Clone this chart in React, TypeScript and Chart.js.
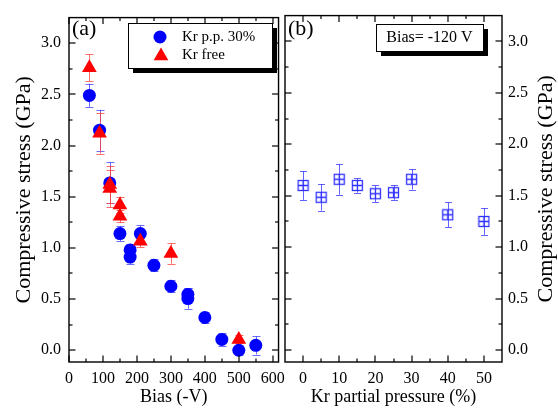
import React, { useEffect, useRef } from 'react';
import { Chart, registerables } from 'chart.js';
Chart.register(...registerables);

// ---------- data ----------
const biasPP = [60, 90, 120, 150, 180, 180, 210, 250, 300, 350, 350, 400, 450, 500, 550];
const stressPP = [2.49, 2.15, 1.635, 1.14, 0.98, 0.91, 1.14, 0.83, 0.625, 0.545, 0.505, 0.32, 0.106, 0.0, 0.048];
const errPP = [0.115, 0.2, 0.2, 0.075, 0.06, 0.07, 0.08, 0.06, 0.06, 0.06, 0.1, 0.05, 0.06, 0.05, 0.09];

const biasFree = [60, 90, 120, 120, 150, 150, 210, 300, 500];
const stressFree = [2.76, 2.12, 1.62, 1.58, 1.42, 1.31, 1.065, 0.945, 0.106];
const errFree = [0.13, 0.2, 0.18, 0.18, 0.08, 0.06, 0.06, 0.1, 0.04];

const krPressure = [0, 5, 10, 15, 20, 25, 30, 40, 50];
const stressKr = [1.6, 1.485, 1.66, 1.6, 1.52, 1.53, 1.66, 1.315, 1.25];
const errKr = [0.14, 0.13, 0.15, 0.07, 0.08, 0.07, 0.1, 0.12, 0.13];

const biasTicks = [0, 100, 200, 300, 400, 500, 600];
const biasMinor = [50, 150, 250, 350, 450, 550];
const krTicks = [0, 10, 20, 30, 40, 50];
const krMinor = [5, 15, 25, 35, 45];
const stressTicks = [0, 0.5, 1.0, 1.5, 2.0, 2.5, 3.0];
const stressMinor = [0.25, 0.75, 1.25, 1.75, 2.25, 2.75];

const seriesLabels = ['Kr p.p. 30%', 'Kr free'];
const biasNote = 'Bias= -120 V';
const yTitle = 'Compressive stress (GPa)';

const FONT = "'Liberation Serif', 'Times New Roman', serif";

// ---------- plugins ----------
const errorBars = {
  id: 'errorBars',
  beforeDatasetsDraw(chart: any) {
    const { ctx } = chart;
    chart.data.datasets.forEach((ds: any, i: number) => {
      if (!ds.errors) return;
      const meta = chart.getDatasetMeta(i);
      const ys = chart.scales[meta.yAxisID];
      ctx.save();
      ctx.strokeStyle = ds.errorColor;
      ctx.lineWidth = 1;
      meta.data.forEach((pt: any, j: number) => {
        const v = ds.data[j].y;
        const e = ds.errors[j];
        const t = ys.getPixelForValue(v + e);
        const b = ys.getPixelForValue(v - e);
        const x = Math.round(pt.x) + 0.5;
        const cw = ds.capHalf || 4;
        ctx.beginPath();
        ctx.moveTo(x, t);
        ctx.lineTo(x, b);
        ctx.moveTo(x - cw, Math.round(t) + 0.5);
        ctx.lineTo(x + cw, Math.round(t) + 0.5);
        ctx.moveTo(x - cw, Math.round(b) + 0.5);
        ctx.lineTo(x + cw, Math.round(b) + 0.5);
        ctx.stroke();
      });
      ctx.restore();
    });
  },
};

function frameTicks(xMajor: number[], xMinor: number[], yMajor: number[], yMinor: number[]) {
  return {
    id: 'frameTicks',
    afterDraw(chart: any) {
      const { ctx, chartArea: a, scales } = chart;
      const xs = scales.x;
      const ys = scales.y;
      ctx.save();
      ctx.strokeStyle = '#000';
      ctx.lineWidth = 1.4;
      ctx.strokeRect(a.left, a.top, a.right - a.left, a.bottom - a.top);
      ctx.lineWidth = 1.2;
      const seg = (x1: number, y1: number, x2: number, y2: number) => {
        ctx.beginPath();
        ctx.moveTo(x1, y1);
        ctx.lineTo(x2, y2);
        ctx.stroke();
      };
      const xt = (vals: number[], len: number) =>
        vals.forEach((v) => {
          const p = Math.round(xs.getPixelForValue(v));
          seg(p, a.bottom, p, a.bottom - len);
          seg(p, a.top, p, a.top + len);
        });
      const yt = (vals: number[], len: number) =>
        vals.forEach((v) => {
          const p = Math.round(ys.getPixelForValue(v));
          seg(a.left, p, a.left + len, p);
          seg(a.right, p, a.right - len, p);
        });
      xt(xMajor, 6.5);
      xt(xMinor, 3.5);
      yt(yMajor, 6.5);
      yt(yMinor, 3.5);
      ctx.restore();
    },
  };
}

function shadowBox(ctx: any, x: number, y: number, w: number, h: number) {
  ctx.fillStyle = '#000';
  ctx.fillRect(x + 5, y + 5, w, h);
  ctx.fillStyle = '#fff';
  ctx.fillRect(x, y, w, h);
  ctx.strokeStyle = '#000';
  ctx.lineWidth = 1;
  ctx.strokeRect(x + 0.5, y + 0.5, w, h);
}

const leftAnnotations = {
  id: 'leftAnnotations',
  afterDraw(chart: any) {
    const { ctx } = chart;
    ctx.save();
    ctx.fillStyle = '#000';
    ctx.font = `22px ${FONT}`;
    ctx.textBaseline = 'middle';
    ctx.textAlign = 'left';
    ctx.fillText('(a)', 72, 29.5);

    shadowBox(ctx, 128, 23, 144, 45);
    // circle marker
    ctx.fillStyle = '#0000ff';
    ctx.beginPath();
    ctx.arc(160, 37, 6.5, 0, Math.PI * 2);
    ctx.fill();
    // triangle marker
    ctx.fillStyle = '#ff0000';
    const r = 8.5, cx = 161, cy = 56;
    ctx.beginPath();
    ctx.moveTo(cx, cy - r);
    ctx.lineTo(cx + r * Math.sqrt(3) / 2, cy + r / 2);
    ctx.lineTo(cx - r * Math.sqrt(3) / 2, cy + r / 2);
    ctx.closePath();
    ctx.fill();
    ctx.fillStyle = '#000';
    ctx.font = `15px ${FONT}`;
    ctx.fillText(seriesLabels[0], 182, 37.5);
    ctx.fillText(seriesLabels[1], 182, 55);
    ctx.restore();
  },
};

const RIGHT_OFFSET = 278;
const rightAnnotations = {
  id: 'rightAnnotations',
  afterDraw(chart: any) {
    const { ctx, chartArea: a } = chart;
    ctx.save();
    ctx.fillStyle = '#000';
    ctx.font = `22px ${FONT}`;
    ctx.textBaseline = 'middle';
    ctx.textAlign = 'left';
    ctx.fillText('(b)', 288 - RIGHT_OFFSET, 29.5);

    shadowBox(ctx, 376 - RIGHT_OFFSET, 24, 107, 27);
    ctx.fillStyle = '#000';
    ctx.font = `16px ${FONT}`;
    ctx.textAlign = 'center';
    ctx.fillText(biasNote, 429.5 - RIGHT_OFFSET, 38);

    // right axis title (reads bottom-to-top)
    ctx.font = `22px ${FONT}`;
    ctx.translate(546 - RIGHT_OFFSET, (a.top + a.bottom) / 2);
    ctx.rotate(-Math.PI / 2);
    ctx.textAlign = 'center';
    ctx.fillText(yTitle, 0, 0);
    ctx.restore();
  },
};

function squareMarker(): HTMLCanvasElement {
  const c = document.createElement('canvas');
  c.width = 13;
  c.height = 13;
  const g = c.getContext('2d')!;
  g.strokeStyle = '#3333ff';
  g.lineWidth = 1.3;
  g.strokeRect(1.5, 1.5, 10, 10);
  g.beginPath();
  g.moveTo(6.5, 1.5);
  g.lineTo(6.5, 11.5);
  g.moveTo(1.5, 6.5);
  g.lineTo(11.5, 6.5);
  g.stroke();
  return c;
}

const tickFont = { family: FONT, size: 16 };
const xTitleFont = { family: FONT, size: 18 };
const yTitleFont = { family: FONT, size: 22 };
const Y_MIN = -0.115;
const Y_MAX = 3.25;

export default function App() {
  const leftRef = useRef<HTMLCanvasElement>(null);
  const rightRef = useRef<HTMLCanvasElement>(null);

  useEffect(() => {
    const left = new Chart(leftRef.current!, {
      type: 'scatter',
      data: {
        datasets: [
          {
            label: seriesLabels[0],
            data: biasPP.map((b, i) => ({ x: b, y: stressPP[i] })),
            pointStyle: 'circle',
            pointRadius: 6.5,
            pointBorderWidth: 0,
            backgroundColor: '#0000ff',
            borderColor: '#0000ff',
            order: 1,
            errors: errPP,
            errorColor: 'rgba(60,60,255,0.75)',
          } as any,
          {
            label: seriesLabels[1],
            data: biasFree.map((b, i) => ({ x: b, y: stressFree[i] })),
            pointStyle: 'triangle',
            pointRadius: 8.5,
            pointBorderWidth: 0,
            backgroundColor: '#ff0000',
            borderColor: '#ff0000',
            order: 0,
            errors: errFree,
            errorColor: 'rgba(255,60,60,0.75)',
          } as any,
        ],
      },
      options: {
        responsive: false,
        animation: false,
        events: [],
        layout: { padding: { left: 0, right: 7, top: 12, bottom: 0 } },
        plugins: { legend: { display: false }, tooltip: { enabled: false } },
        scales: {
          x: {
            type: 'linear',
            position: 'bottom',
            min: 0,
            max: 617,
            grid: { display: false, drawTicks: false },
            border: { display: false },
            afterBuildTicks: (s: any) => {
              s.ticks = biasTicks.map((v) => ({ value: v }));
            },
            afterFit: (s: any) => {
              s.height = 52;
            },
            ticks: {
              autoSkip: false,
              maxRotation: 0,
              color: '#000',
              font: tickFont,
              padding: 7,
              callback: (v: any) => String(v),
            },
            title: {
              display: true,
              text: 'Bias (-V)',
              color: '#000',
              font: xTitleFont,
              padding: { top: 0, bottom: 6 },
            },
          },
          y: {
            type: 'linear',
            position: 'left',
            min: Y_MIN,
            max: Y_MAX,
            grid: { display: false, drawTicks: false },
            border: { display: false },
            afterBuildTicks: (s: any) => {
              s.ticks = stressTicks.map((v) => ({ value: v }));
            },
            afterFit: (s: any) => {
              s.width = 69;
            },
            ticks: {
              autoSkip: false,
              color: '#000',
              font: tickFont,
              padding: 8,
              callback: (v: any) => Number(v).toFixed(1),
            },
            title: {
              display: true,
              text: yTitle,
              color: '#000',
              font: yTitleFont,
              padding: { top: 11, bottom: 0 },
            },
          },
        },
      } as any,
      plugins: [errorBars, frameTicks(biasTicks, biasMinor, stressTicks, stressMinor), leftAnnotations],
    });

    const right = new Chart(rightRef.current!, {
      type: 'scatter',
      data: {
        datasets: [
          {
            label: 'Kr partial pressure',
            data: krPressure.map((k, i) => ({ x: k, y: stressKr[i] })),
            pointStyle: squareMarker(),
            pointRadius: 6,
            backgroundColor: 'rgba(0,0,0,0)',
            borderColor: '#3333ff',
            errors: errKr,
            errorColor: 'rgba(60,60,255,0.8)',
            capHalf: 3.5,
          } as any,
        ],
      },
      options: {
        responsive: false,
        animation: false,
        events: [],
        layout: { padding: { left: 7, right: 0, top: 12, bottom: 0 } },
        plugins: { legend: { display: false }, tooltip: { enabled: false } },
        scales: {
          x: {
            type: 'linear',
            position: 'bottom',
            min: -5,
            max: 55,
            grid: { display: false, drawTicks: false },
            border: { display: false },
            afterBuildTicks: (s: any) => {
              s.ticks = krTicks.map((v) => ({ value: v }));
            },
            afterFit: (s: any) => {
              s.height = 52;
            },
            ticks: {
              autoSkip: false,
              maxRotation: 0,
              color: '#000',
              font: tickFont,
              padding: 7,
              callback: (v: any) => String(v),
            },
            title: {
              display: true,
              text: 'Kr partial pressure (%)',
              color: '#000',
              font: xTitleFont,
              padding: { top: 0, bottom: 6 },
            },
          },
          y: {
            type: 'linear',
            position: 'right',
            min: Y_MIN,
            max: Y_MAX,
            grid: { display: false, drawTicks: false },
            border: { display: false },
            afterBuildTicks: (s: any) => {
              s.ticks = stressTicks.map((v) => ({ value: v }));
            },
            afterFit: (s: any) => {
              s.width = 56;
            },
            ticks: {
              autoSkip: false,
              color: '#000',
              font: tickFont,
              padding: 6,
              callback: (v: any) => Number(v).toFixed(1),
            },
            title: { display: false },
          },
        },
      } as any,
      plugins: [errorBars, frameTicks(krTicks, krMinor, stressTicks, stressMinor), rightAnnotations],
    });

    return () => {
      left.destroy();
      right.destroy();
    };
  }, []);

  return (
    <div
      style={{
        position: 'fixed',
        left: 0,
        top: 0,
        width: 558,
        height: 414,
        background: '#fff',
        overflow: 'hidden',
      }}
    >
      <canvas
        ref={leftRef}
        width={292}
        height={414}
        style={{ position: 'absolute', left: 0, top: 0, width: 292, height: 414 }}
      />
      <canvas
        ref={rightRef}
        width={280}
        height={414}
        style={{ position: 'absolute', left: RIGHT_OFFSET, top: 0, width: 280, height: 414 }}
      />
    </div>
  );
}
